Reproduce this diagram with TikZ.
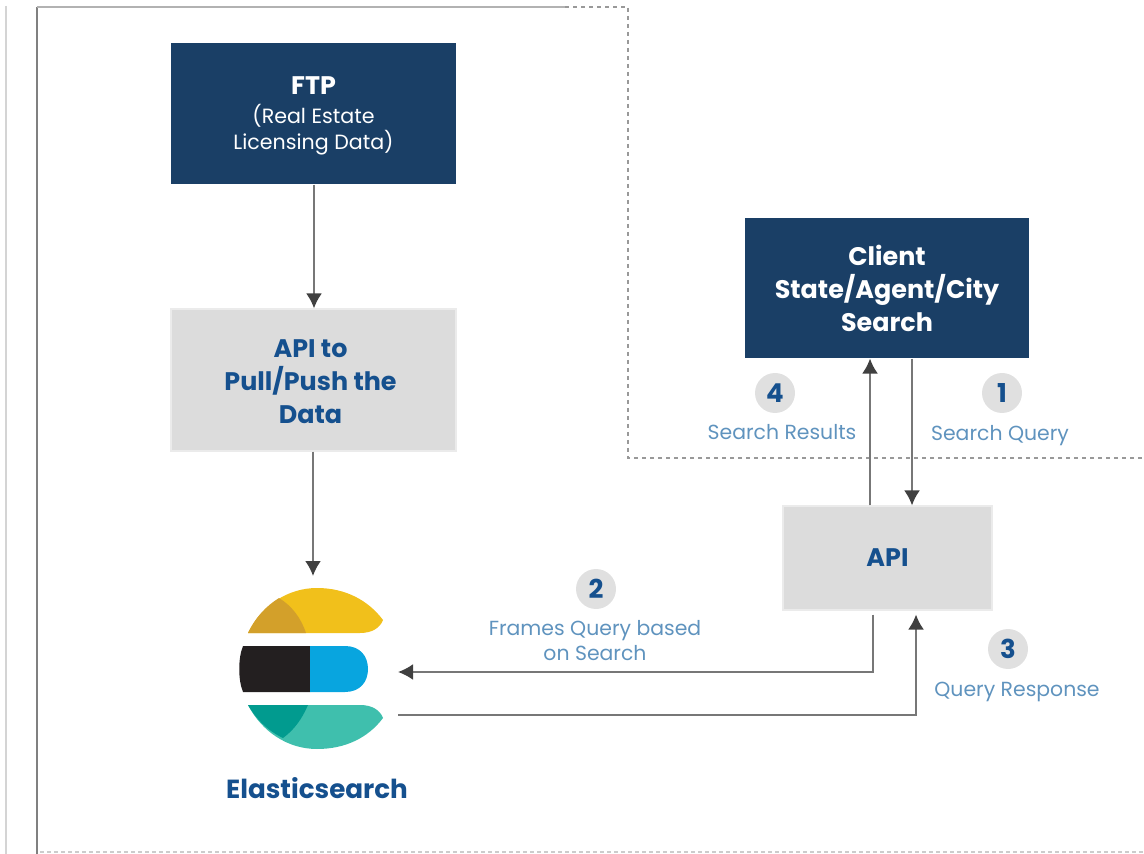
\documentclass[tikz,border=0pt]{standalone}
\usepackage{fontspec}
\setmainfont{Poppins}
\usepackage{xcolor}
\usetikzlibrary{arrows.meta}
\usetikzlibrary{calc}
\definecolor{navybox}{HTML}{1A3F66}
\definecolor{greybox}{HTML}{DCDCDC}
\definecolor{boldblue}{HTML}{15508E}
\definecolor{softblue}{HTML}{5F93BE}
\definecolor{arrowgrey}{HTML}{777777}
\definecolor{yellowA}{HTML}{F1C01B}
\definecolor{yellowB}{HTML}{D3A02A}
\definecolor{blackA}{HTML}{231F20}
\definecolor{blueA}{HTML}{08A5DF}
\definecolor{tealA}{HTML}{3FBFAD}
\definecolor{tealB}{HTML}{019B8F}
\begin{document}
\begin{tikzpicture}[x=.5pt,y=-.5pt,>={Latex[length=7.5pt,width=8pt,color=black!75]},semithick]
	\tikzstyle{navy}=[fill=navybox, text=white, align=center, inner sep=0pt, font=\fontsize{12.7}{16.5}\selectfont\bfseries]
	\tikzstyle{grey}=[fill=greybox, draw=black!8, text=boldblue, align=center, inner sep=0pt, font=\fontsize{12.7}{16.5}\selectfont\bfseries]
	\tikzstyle{num}=[circle, fill=black!12, text=boldblue, minimum size=20pt, inner sep=0pt, font=\fontsize{13}{13}\selectfont\bfseries]
	\tikzstyle{lab}=[text=softblue, align=center, inner sep=0pt, font=\fontsize{10.2}{12.5}\selectfont]
	\tikzstyle{conn}=[draw=arrowgrey, line width=1pt, ->]
	\useasboundingbox (0,0) rectangle (1144,854);
	% frame
	\draw[black!17, line width=1pt] (6,6) -- (6,854);
	\draw[black!50, line width=.8pt] (37,854) -- (37,7);
	\draw[black!30, line width=1.1pt] (37,7) -- (565,7);
	\draw[black!40, line width=.7pt, dash pattern=on 2pt off 2pt] (565,7) -- (628,7) -- (628,458) -- (1144,458);
	\draw[black!20, line width=.7pt, dash pattern=on 2pt off 1.5pt] (40,852) -- (1144,852);
	% boxes
	\node[navy, minimum width=142.5pt, minimum height=70.5pt, font=\fontsize{10.3}{13}\selectfont\mdseries] (ftp) at (313.5,113.5) {\rule{0pt}{11.5pt}\fontsize{12.7}{13}\selectfont\bfseries FTP\\[1.5pt] (Real Estate\\ Licensing Data)};
	\node[grey, minimum width=142.5pt, minimum height=71pt] (pull) at (313.5,380) {\rule{0pt}{10.75pt}\hspace*{-3pt}API to\\ \hspace*{-3pt}Pull/Push the\\ \hspace*{-3pt}Data};
	\node[navy, minimum width=142pt, minimum height=70pt] (client) at (887,288) {Client\\ State/Agent/City\\ Search};
	\node[grey, minimum width=104.5pt, minimum height=52pt] (api) at (887.5,558) {API};
	% logo
	\fill[yellowA] (248,633) .. controls (262,605) and (288,588) .. (317,588) .. controls (345,588) and (368,600) .. (383,620) .. controls (380,628) and (372,633) .. (360,633) -- cycle;
	\fill[yellowB] (248,633) .. controls (255,618) and (266,606) .. (279,598) .. controls (292,606) and (301,618) .. (306,633) -- cycle;
	\fill[blackA] (243,646) -- (310,646) -- (310,692) -- (243,692) .. controls (238,680) and (238,658) .. (243,646) -- cycle;
	\fill[blueA] (310,646) -- (345,646) .. controls (360,646) and (368,656) .. (368,669) .. controls (368,682) and (360,692) .. (345,692) -- (310,692) -- cycle;
	\fill[tealA] (248,705) -- (360,705) .. controls (372,705) and (380,710) .. (383,718) .. controls (368,738) and (345,749) .. (317,749) .. controls (288,749) and (262,732) .. (248,705) -- cycle;
	\fill[tealB] (248,705) -- (308,705) .. controls (302,719) and (294,730) .. (283,738) .. controls (268,731) and (256,719) .. (248,705) -- cycle;
	\node[text=boldblue, inner sep=0pt, font=\fontsize{13.1}{14}\selectfont\bfseries] (es) at (317,788) {Elasticsearch};
	% free ends
	\coordinate (esin) at (313,576);
	\coordinate (esleft) at (398,672);
	\coordinate (esright) at (398,715);
	% numbers and labels
	\node[num] (n4) at (775,393) {4};
	\node[num] (n1) at (1002,393) {1};
	\node[num] (n2) at (596,589) {2};
	\node[num] (n3) at (1008,649) {3};
	\node[lab] (l4) at (782,432) {Search Results};
	\node[lab] (l1) at (1000,436) {Search Query};
	\node[lab] (l2) at (595,641) {Frames Query based\\ on Search};
	\node[lab] (l3) at (1017,692) {Query Response};
	% connectors
	\draw[conn] (ftp.south -| 314,0) -- (pull.north -| 314,0);
	\draw[conn] (pull.south -| esin) -- (esin);
	\draw[conn] (api.north -| 870,0) -- (client.south -| 870,0);
	\draw[conn] (client.south -| 912,0) -- (api.north -| 912,0);
	\draw[conn] ($(api.south -| 873,0)+(0,4)$) -- (873,672) -- (esleft);
	\draw[conn] (esright) -- (916,715) -- ($(api.south -| 916,0)+(0,4)$);
\end{tikzpicture}
\end{document}
